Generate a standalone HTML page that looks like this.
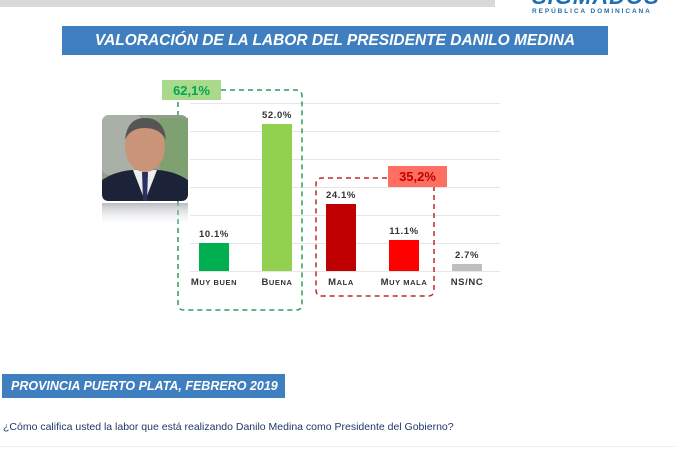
<!DOCTYPE html>
<html><head><meta charset="utf-8"><style>
body{margin:0;width:675px;height:450px;background:#fff;overflow:hidden;position:relative;font-family:"Liberation Sans",sans-serif}
.a{position:absolute}
.lbl{position:absolute;font-size:9.5px;font-weight:bold;color:#333;letter-spacing:0.6px;text-align:center;width:70px}
.val{position:absolute;font-size:9.5px;font-weight:bold;color:#333;letter-spacing:0.6px;text-align:center;width:50px}
</style></head><body>
<div class="a" style="left:0;top:0;width:495px;height:7px;background:#d9d9d9"></div>
<div class="a" style="left:532px;top:-16px;font-size:22px;font-weight:bold;color:#1f6fb0;font-style:italic;letter-spacing:1px">SIGMADOS</div>
<div class="a" style="left:532px;top:8px;font-size:6.5px;font-weight:bold;color:#1f6fb0;letter-spacing:1.9px;white-space:nowrap">REPÚBLICA DOMINICANA</div>
<div class="a" style="left:62px;top:26px;width:546px;height:29px;background:#3f7fbf;color:#fff;font-style:italic;font-weight:bold;font-size:15.5px;line-height:29px;text-align:center">VALORACIÓN DE LA LABOR DEL PRESIDENTE DANILO MEDINA</div>

<svg class="a" style="left:0;top:0" width="675" height="450">
<g stroke="#e6e6e6" stroke-width="1">
<line x1="190" x2="500" y1="103.5" y2="103.5"/><line x1="190" x2="500" y1="131.5" y2="131.5"/><line x1="190" x2="500" y1="159.5" y2="159.5"/><line x1="190" x2="500" y1="187.5" y2="187.5"/><line x1="190" x2="500" y1="215.5" y2="215.5"/><line x1="190" x2="500" y1="243.5" y2="243.5"/><line x1="190" x2="500" y1="271.5" y2="271.5"/>
</g>
<rect x="199" y="243" width="30" height="28" fill="#00b050"/>
<rect x="262" y="124" width="30" height="147" fill="#92d050"/>
<rect x="326" y="204" width="30" height="67" fill="#c00000"/>
<rect x="389" y="240" width="30" height="31" fill="#ff0000"/>
<rect x="452" y="264" width="30" height="7" fill="#bfbfbf"/>
<path d="M221 90 H296 Q302 90 302 96 V304 Q302 310 296 310 H184 Q178 310 178 304 V100" fill="none" stroke="#2e9e5e" stroke-width="1.5" stroke-dasharray="5,4"/>
<path d="M388 178 H434 V290 Q434 296 428 296 H322 Q316 296 316 290 V184 Q316 178 322 178 H388" fill="none" stroke="#c0282c" stroke-width="1.5" stroke-dasharray="5,4"/>
<rect x="162" y="80" width="59" height="20" fill="#a9d98b"/>
<text x="191.5" y="95" font-size="13" font-weight="bold" fill="#00a651" text-anchor="middle" font-family="Liberation Sans">62,1%</text>
<rect x="388" y="166" width="59" height="21" fill="#ff6f61"/>
<text x="417.5" y="181" font-size="13" font-weight="bold" fill="#c00000" text-anchor="middle" font-family="Liberation Sans">35,2%</text>
<defs><linearGradient id="rf" x1="0" y1="0" x2="0" y2="1"><stop offset="0" stop-color="#9aa0a8" stop-opacity="0.7"/><stop offset="1" stop-color="#fff" stop-opacity="0"/></linearGradient></defs>
<rect x="102" y="115" width="86" height="86" rx="7" fill="#8fa08a"/>
<rect x="102" y="115" width="40" height="60" rx="7" fill="#a8b0a8"/>
<rect x="160" y="118" width="28" height="60" fill="#7fa070"/>
<path d="M102 180 Q120 168 145 170 Q170 168 188 180 V194 Q188 201 181 201 H109 Q102 201 102 194Z" fill="#1c2238"/>
<path d="M133 170 L145 201 L157 170Z" fill="#eee"/>
<path d="M142 172 L148 172 L147 201 L143 201Z" fill="#2a3060"/>
<ellipse cx="145" cy="147" rx="20" ry="25" fill="#c99477"/>
<path d="M125 140 Q127 118 145 118 Q164 118 166 140 Q160 128 145 128 Q130 128 125 140Z" fill="#555"/>
<rect x="102" y="203" width="86" height="24" fill="url(#rf)"/>
</svg>
<div class="val" style="left:189px;top:229px">10.1%</div>
<div class="val" style="left:252px;top:110px">52.0%</div>
<div class="val" style="left:316px;top:190px">24.1%</div>
<div class="val" style="left:379px;top:226px">11.1%</div>
<div class="val" style="left:442px;top:250px">2.7%</div>
<div class="lbl" style="left:179px;top:277px">M<span style="font-size:7.5px">UY BUEN</span></div>
<div class="lbl" style="left:242px;top:277px">B<span style="font-size:7.5px">UENA</span></div>
<div class="lbl" style="left:306px;top:277px">M<span style="font-size:7.5px">ALA</span></div>
<div class="lbl" style="left:369px;top:277px">M<span style="font-size:7.5px">UY MALA</span></div>
<div class="lbl" style="left:432px;top:277px">NS/NC</div>

<div class="a" style="left:2px;top:374px;width:283px;height:24px;background:#3f7fbf;color:#fff;font-style:italic;font-weight:bold;font-size:12.5px;line-height:24px;padding-left:9px;box-sizing:border-box;white-space:nowrap;overflow:hidden">PROVINCIA PUERTO PLATA, FEBRERO 2019</div>
<div class="a" style="left:3px;top:421px;font-size:10.5px;color:#1f3864;white-space:nowrap">¿Cómo califica usted la labor que está realizando Danilo Medina como Presidente del Gobierno?</div>
<div class="a" style="left:0;top:446px;width:675px;height:1px;background:#eee"></div>
</body></html>
